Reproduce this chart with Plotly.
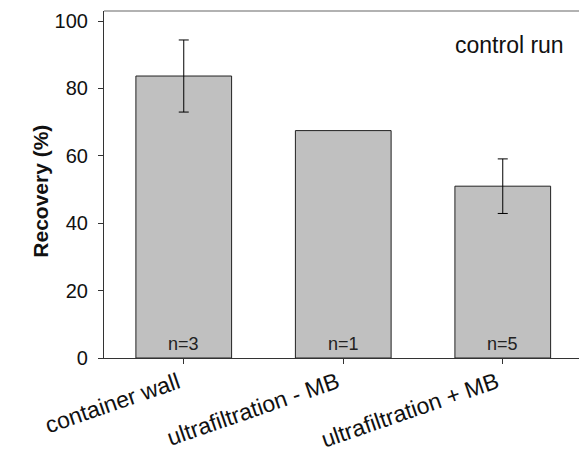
import plotly.graph_objects as go

# Recovery per sampling approach (control run)
categories = ["container wall", "ultrafiltration - MB", "ultrafiltration + MB"]
recovery = [83.7, 67.5, 51.0]
recovery_sd = [10.7, None, 8.1]
n_labels = ["n=3", "n=1", "n=5"]
y_ticks = [0, 20, 40, 60, 80, 100]

FONT = "Liberation Sans, Arial, sans-serif"
xpos = list(range(len(categories)))

fig = go.Figure()
fig.add_trace(go.Bar(
    x=xpos,
    y=recovery,
    width=0.6,
    marker=dict(color="#c0c0c0", line=dict(color="#222222", width=1)),
    showlegend=False,
))

# error bars only where a spread was measured
err_idx = [i for i, s in enumerate(recovery_sd) if s is not None]
fig.add_trace(go.Scatter(
    x=[xpos[i] for i in err_idx],
    y=[recovery[i] for i in err_idx],
    mode="markers",
    marker=dict(size=1, opacity=0),
    error_y=dict(type="data", array=[recovery_sd[i] for i in err_idx], visible=True,
                 color="#000000", thickness=1, width=5),
    showlegend=False, hoverinfo="skip",
))

for i, lab in enumerate(n_labels):
    fig.add_annotation(x=xpos[i], y=0, text=lab, showarrow=False,
                       yanchor="bottom", yshift=2,
                       font=dict(family=FONT, size=18, color="#222222"))

# slanted category labels, right end at each tick
for i, cat in enumerate(categories):
    fig.add_annotation(x=xpos[i], y=0, text=cat, showarrow=False,
                       textangle=-19, xanchor="right", yanchor="top",
                       xshift=2, yshift=-7,
                       font=dict(family=FONT, size=23, color="#111111"))

fig.add_annotation(x=2.04, y=93.0, text="control run", showarrow=False,
                   font=dict(family=FONT, size=23, color="#111111"))

fig.add_annotation(xref="paper", yref="paper", x=-0.164, y=0.481,
                   text="<b>Recovery (%)</b>", textangle=-90, showarrow=False,
                   font=dict(family=FONT, size=21, color="#111111"))

# top frame line
fig.add_shape(type="line", xref="paper", yref="paper", x0=0, x1=1, y0=1, y1=1,
              line=dict(color="#666666", width=1.2))

fig.update_layout(
    width=579, height=454,
    margin=dict(l=104, r=0, t=11, b=96),
    paper_bgcolor="white", plot_bgcolor="white",
    font=dict(family=FONT, size=20, color="#111111"),
)
fig.update_xaxes(
    range=[-0.5, 2.478], automargin=False,
    tickmode="array", tickvals=xpos, showticklabels=False,
    ticks="outside", ticklen=5, tickcolor="#333333",
    showline=True, linecolor="#333333", linewidth=1.2,
    showgrid=False, zeroline=False,
)
fig.update_yaxes(
    range=[0, 103], tickmode="array", tickvals=y_ticks, automargin=False,
    ticks="outside", ticklen=5, tickcolor="#333333",
    showline=True, linecolor="#333333", linewidth=1.2,
    showgrid=False, zeroline=False, ticklabelstandoff=6,
    tickfont=dict(family=FONT, size=20, color="#111111"),
)

fig.write_html("out.html")
